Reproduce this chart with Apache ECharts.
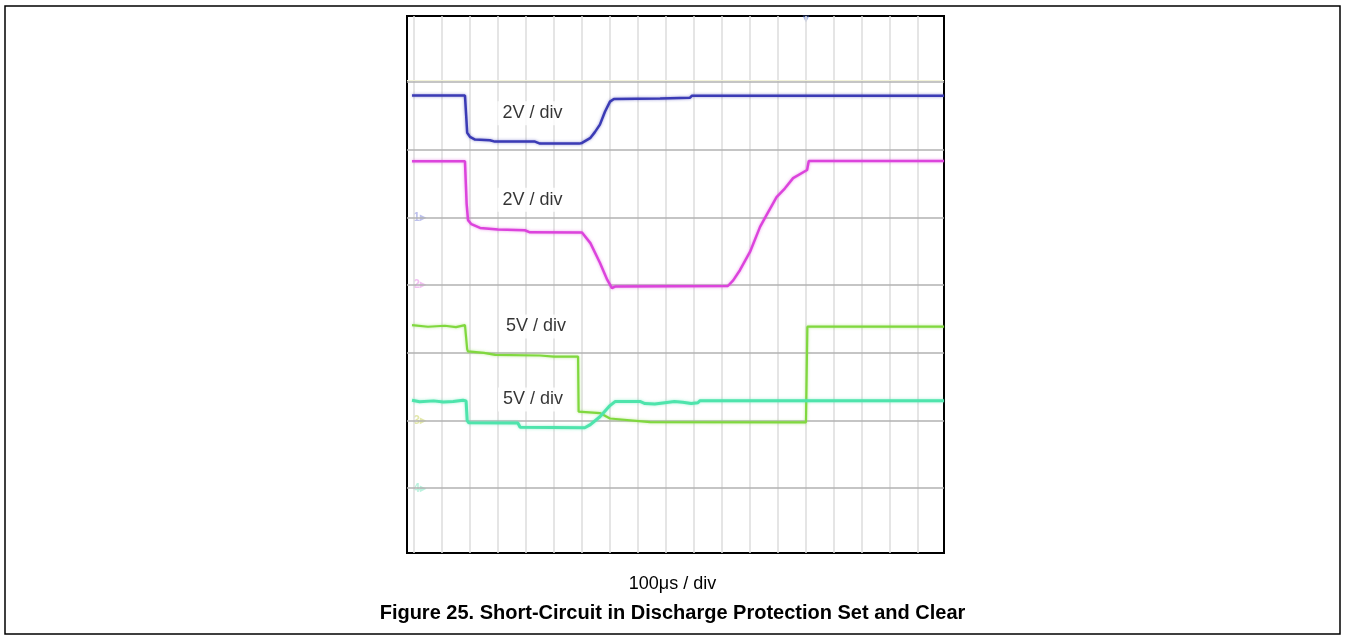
<!DOCTYPE html>
<html><head><meta charset="utf-8">
<script src="https://cdn.jsdelivr.net/npm/echarts@6/dist/echarts.min.js"></script>
<style>html,body{margin:0;padding:0;background:#fff}#c{width:1345px;height:639px}</style>
</head><body><div id="c"></div>
<script>
// Units: x = grid columns (minor vertical graticule), y = vertical divisions
const gridCols = [0,1,2,3,4,5,6,7,8,9,10,11,12,13,14,15,16,17,18];
const gridRows = [1,2,3,4,5,6,7];

const ch1 = [[-0.07,6.80],[1.82,6.80],[1.86,6.79],[1.90,6.25],[2.0,6.19],[2.18,6.15],[2.71,6.14],[2.89,6.12],[4.32,6.12],[4.5,6.09],[5.9,6.09],[6.0,6.10],[6.29,6.17],[6.46,6.26],[6.64,6.37],[6.82,6.56],[7.0,6.71],[7.14,6.75],[8.79,6.756],[9.5,6.765],[9.86,6.768],[9.93,6.798],[18.93,6.798]];
const ch2 = [[-0.07,5.83],[1.82,5.83],[1.86,5.83],[1.88,5.2],[1.93,4.96],[2.05,4.90],[2.36,4.844],[3.0,4.82],[3.96,4.81],[4.14,4.78],[6.0,4.777],[6.04,4.76],[6.3,4.62],[6.64,4.33],[6.9,4.08],[7.07,3.957],[7.2,3.98],[11.21,3.987],[11.4,4.07],[11.64,4.22],[12.0,4.49],[12.36,4.86],[12.6,5.04],[12.95,5.30],[13.25,5.43],[13.54,5.58],[14.04,5.70],[14.1,5.833],[18.93,5.833]];
const ch3 = [[-0.07,3.41],[0.5,3.385],[1.1,3.40],[1.5,3.38],[1.82,3.41],[1.86,3.40],[1.90,3.05],[1.93,3.02],[2.5,3.00],[2.9,2.97],[4.5,2.96],[5.0,2.945],[5.86,2.945],[5.88,2.13],[6.64,2.11],[7.0,2.03],[8.43,1.975],[14.0,1.973],[14.05,3.386],[18.93,3.386]];
const ch4 = [[-0.07,2.30],[0.2,2.278],[0.7,2.29],[1.05,2.273],[1.4,2.28],[1.75,2.30],[1.86,2.29],[1.90,2.0],[1.95,1.968],[3.71,1.963],[3.79,1.90],[6.1,1.894],[6.3,1.94],[6.64,2.056],[7.0,2.22],[7.18,2.28],[8.07,2.281],[8.25,2.25],[8.6,2.244],[8.89,2.26],[9.3,2.28],[9.6,2.27],[9.9,2.25],[10.14,2.262],[10.21,2.292],[18.93,2.292]];

const scaleLabels = ['2V / div','2V / div','5V / div','5V / div'];
const scaleLabelPos = [[4.23,6.54],[4.23,5.26],[4.36,3.39],[4.25,2.31]];
const channelMarks = ['1\u25B8','2\u25B8','3\u25B8','4\u25B8'];
const channelMarkPos = [[0.2,5],[0.2,4],[0.2,2],[0.2,1]];
const triggerPos = [[14.0,7.93]];
const timeLabel = '100\u03bcs / div';
const figTitle = 'Figure 25. Short-Circuit in Discharge Protection Set and Clear';

const colors = ['#3b3bb5','#dc44dc','#80d83e','#4ee4ac'];
const markColors = ['rgba(90,100,210,0.5)','rgba(220,80,220,0.45)','rgba(190,200,60,0.55)','rgba(80,220,170,0.5)'];

function trace(name, data, color, w) {
  return {
    name, type:'line', data, symbol:'none', animation:false, z:5,
    lineStyle:{color, width:w, shadowBlur:3, shadowColor:color+'88'}
  };
}

const chart = echarts.init(document.getElementById('c'));
chart.setOption({
  animation:false,
  title:[
    {text:timeLabel, left:'center', top:570, textStyle:{fontFamily:'Liberation Sans, Arial', fontSize:18, fontWeight:'normal', color:'#000'}},
    {text:figTitle, left:'center', top:598, textStyle:{fontFamily:'Liberation Sans, Arial', fontSize:20, fontWeight:'bold', color:'#000'}}
  ],
  graphic:[{type:'rect', shape:{x:5,y:6,width:1335,height:628}, style:{fill:'none', stroke:'#000', lineWidth:1.5}, silent:true}],
  grid:{left:407, top:16, width:537, height:537, show:true, borderColor:'#000', borderWidth:2, backgroundColor:'#fff'},
  xAxis:{type:'value', min:-0.25, max:18.93, axisLine:{show:false}, axisTick:{show:false}, axisLabel:{show:false}, splitLine:{show:false}},
  yAxis:{type:'value', min:0.043, max:7.975, axisLine:{show:false}, axisTick:{show:false}, axisLabel:{show:false}, splitLine:{show:false}},
  series:[
    {type:'line', data:[], silent:true, z:1,
      markLine:{silent:true, symbol:'none', animation:false, label:{show:false},
        data: gridCols.map(v=>({xAxis:v, lineStyle:{color:'#dcdcdc', width:1.5, type:'solid'}}))
          .concat(gridRows.map(v=>({yAxis:v, lineStyle:{color:'#b2b2b2', width:1.5, type:'solid'}})))
          .concat([{yAxis:7.03, lineStyle:{color:'#f2f2d8', width:1.2, type:'solid'}}])
      }},
    trace('ch1', ch1, colors[0], 2.5),
    trace('ch2', ch2, colors[1], 2.5),
    trace('ch3', ch3, colors[2], 2.2),
    trace('ch4', ch4, colors[3], 3),
    {type:'scatter', z:3, silent:true, symbolSize:1, itemStyle:{color:'transparent'},
      data: channelMarkPos.map((p,i)=>({value:p, label:{show:true, position:'inside', formatter:channelMarks[i], color:markColors[i], fontSize:12, fontWeight:'bold', fontFamily:'Liberation Sans'}}))},
    {type:'scatter', z:3, silent:true, symbol:'triangle', symbolRotate:180, symbolSize:7, itemStyle:{color:'rgba(80,110,210,0.6)'}, data:triggerPos},
    {type:'scatter', z:10, silent:true, symbolSize:1, itemStyle:{color:'transparent'},
      data: scaleLabelPos.map((p,i)=>({value:p, label:{show:true, position:'inside', formatter:scaleLabels[i], color:'#000', fontSize:18, fontFamily:'Liberation Sans, Arial', backgroundColor:'#fff', padding:[3,5]}}))}
  ]
});
</script></body></html>
